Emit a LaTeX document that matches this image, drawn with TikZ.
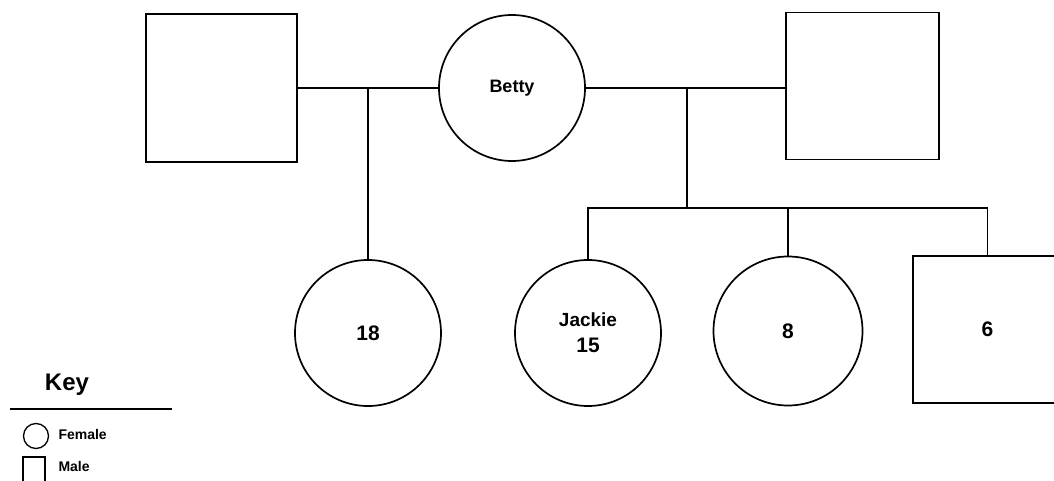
\documentclass[tikz,border=0pt]{standalone}
\usepackage{fontspec}
\setmainfont{Liberation Sans}
\usetikzlibrary{positioning}

\tikzset{
	female/.style={draw, circle, line width=1.7pt, inner sep=0pt,
		minimum size=146pt, font=\fontsize{19}{26}\selectfont\bfseries, align=center},
	male/.style={draw, rectangle, line width=1.7pt, inner sep=0pt,
		minimum width=151pt, minimum height=148pt, font=\fontsize{21}{24}\selectfont\bfseries},
	link/.style={line width=1.7pt},
	age/.style={font=\fontsize{21}{24}\selectfont\bfseries},
}

\begin{document}
\begin{tikzpicture}[x=1pt, y=-1pt]
	\useasboundingbox (0,0) rectangle (1054,481);

	% parents
	\node[male] (dadone) at (221.5,88) {};
	\node[female, font=\fontsize{18}{20}\selectfont\bfseries] (betty) at (512,88) {Betty};
	\node[male, minimum width=153pt, minimum height=147pt] (dadtwo) at (862.5,86) {};

	% children
	\node[female, age] (kidA) at (368,333) {18};
	\node[female] (jackie) at (588,333) {Jackie\\\fontsize{21}{24}\selectfont 15};
	\node[female, age, minimum size=149pt] (kidB) at (788,331) {8};
	\node[male, minimum width=149pt, minimum height=147pt] (kidC) at (987.5,329.5) {6};

	\coordinate (tworoot) at (687,88);
	\coordinate (twobar) at (687,208);

	% marriages and descent lines
	\draw[link] (dadone.east) -- (betty.west);
	\draw[link] (betty.east) -- (betty.east -| dadtwo.west);
	\draw[link] (kidA.north |- betty.west) -- (kidA.north);
	\draw[link] (tworoot) -- (twobar);
	\draw[link] (jackie.north) |- (twobar) -| (kidC.north);
	\draw[link] (kidB.north |- twobar) -- (kidB.north);

	% key
	\node[font=\fontsize{24}{26}\selectfont\bfseries] (keytitle) at (67,385) {Key};
	\coordinate (rulestart) at (10,409);
	\coordinate (ruleend) at (172,409);
	\draw[line width=1.7pt] (rulestart) -- (ruleend);
	\node[draw, circle, line width=1.3pt, minimum size=25pt, inner sep=0pt] (keyf) at (36,436) {};
	\node[anchor=west, font=\fontsize{14}{16}\selectfont\bfseries] (keyftext) at (55,434) {Female};
	\node[draw, rectangle, line width=1.3pt, minimum width=22pt, minimum height=26pt, inner sep=0pt] (keym) at (34,470) {};
	\node[anchor=west, font=\fontsize{14}{16}\selectfont\bfseries] (keymtext) at (55,466) {Male};
\end{tikzpicture}
\end{document}
